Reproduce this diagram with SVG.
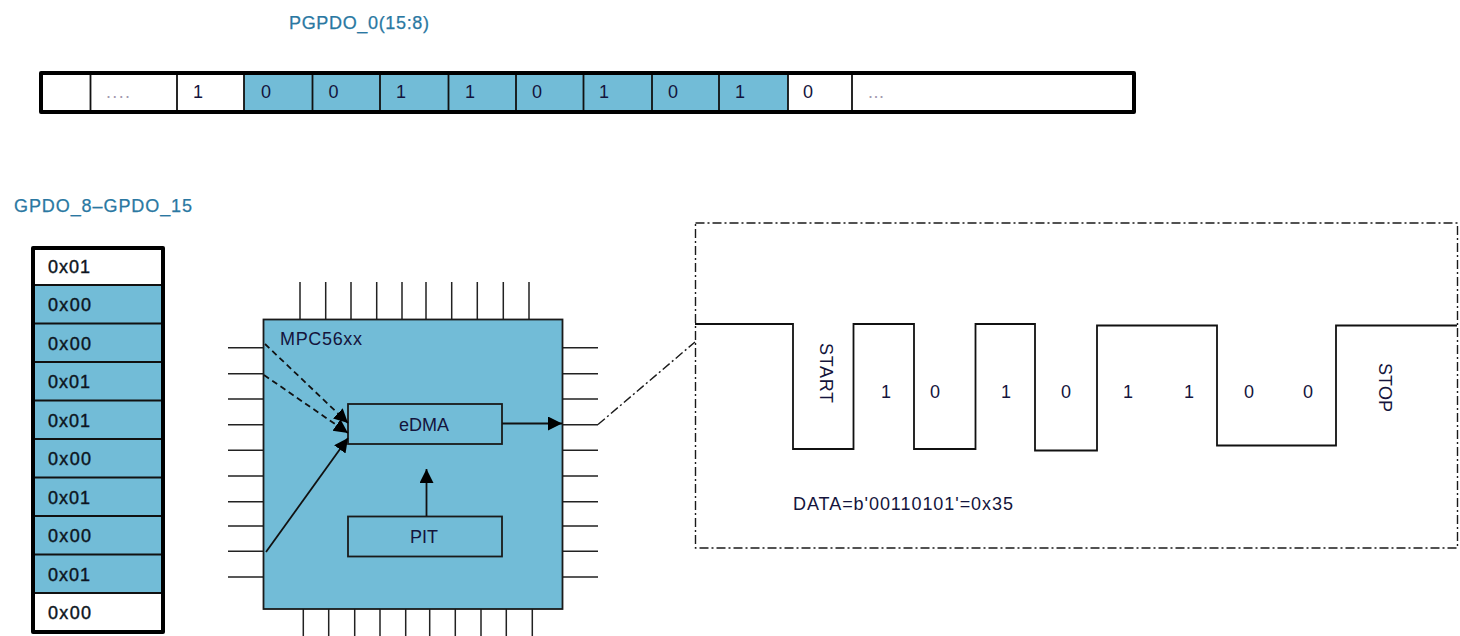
<svg xmlns="http://www.w3.org/2000/svg" width="1460" height="636" viewBox="0 0 1460 636">
<style>
text{font-family:"Liberation Sans",Arial,sans-serif;font-size:18px;fill:#14143c}
.title{fill:#2a78a2;font-weight:400;stroke:#2a78a2;stroke-width:.25}
.c{text-anchor:middle}
.val{fill:#0c1420;stroke:#0c1420;stroke-width:.4}
.dots{fill:#a49ab0}
.blue{fill:#72bcd7}
.white{fill:#fff}
.cell{stroke:#111;stroke-width:1.8}
.frame{fill:none;stroke:#000;stroke-width:4;stroke-linejoin:round}
.box{fill:none;stroke:#1a1a1a;stroke-width:1.8}
.pin{fill:none;stroke:#222;stroke-width:1.5}
.wire{fill:none;stroke:#111;stroke-width:1.8}
.dash{stroke-dasharray:6 4}
.ddot{fill:none;stroke:#1a1a1a;stroke-width:1.4;stroke-dasharray:9 3 2 3}
</style>
<defs>
<marker id="arrow" markerUnits="userSpaceOnUse" markerWidth="15" markerHeight="15" refX="14" refY="7" orient="auto"><path d="M0 0L14 7L0 14Z" fill="#000"/></marker>
</defs>

<g id="title-pgpdo"><text class="title" x="289" y="29" textLength="140">PGPDO_0(15:8)</text></g>
<g id="title-gpdo"><text class="title" x="14" y="212" textLength="178">GPDO_8–GPDO_15</text></g>

<g id="register-pgpdo">
<rect class="white" x="41" y="73" width="203" height="39"/>
<rect class="blue" x="244" y="73" width="544" height="39"/>
<rect class="white" x="788" y="73" width="346" height="39"/>
<path class="cell" fill="none" d="M90.500 73V112M177 73V112M244 73V112M312.500 73V112M380 73V112M448.500 73V112M516 73V112M583.500 73V112M652 73V112M719 73V112M788 73V112M852 73V112"/>
<rect class="frame" x="41" y="73" width="1093" height="39"/>
<text class="c" x="198" y="98">1</text>
<text class="c" x="266" y="98">0</text>
<text class="c" x="333.500" y="98">0</text>
<text class="c" x="401" y="98">1</text>
<text class="c" x="470" y="98">1</text>
<text class="c" x="537" y="98">0</text>
<text class="c" x="604" y="98">1</text>
<text class="c" x="673" y="98">0</text>
<text class="c" x="740" y="98">1</text>
<text class="c" x="808" y="98">0</text>
<text class="dots" x="106" y="98" textLength="24">....</text>
<text class="dots" x="868" y="98" textLength="16">...</text>
</g>

<g id="table-gpdo">
<rect class="white" x="33" y="248" width="130" height="37"/>
<rect class="blue" x="33" y="285" width="130" height="308"/>
<rect class="white" x="33" y="593" width="130" height="39"/>
<path class="cell" fill="none" d="M33 285H163M33 323.500H163M33 362H163M33 400.500H163M33 439H163M33 477.500H163M33 516H163M33 554.500H163M33 593H163"/>
<rect class="frame" x="33" y="248" width="130" height="384"/>
<text class="val" x="48" y="273" textLength="42">0x01</text>
<text class="val" x="48" y="311" textLength="43">0x00</text>
<text class="val" x="48" y="350" textLength="43">0x00</text>
<text class="val" x="48" y="388" textLength="42">0x01</text>
<text class="val" x="48" y="427" textLength="42">0x01</text>
<text class="val" x="48" y="465" textLength="43">0x00</text>
<text class="val" x="48" y="504" textLength="42">0x01</text>
<text class="val" x="48" y="542" textLength="43">0x00</text>
<text class="val" x="48" y="581" textLength="42">0x01</text>
<text class="val" x="48" y="619" textLength="43">0x00</text>
</g>

<g id="chip-mpc56xx">
<path class="pin" d="M300 282V319M325.700 282V319M351 282V319M376.700 282V319M402 282V319M426 282V319M451.700 282V319M477.300 282V319M503.300 282V319M529 282V319"/>
<path class="pin" d="M303.300 609V636M328.700 609V636M354.700 609V636M380 609V636M405.700 609V636M429.700 609V636M455.300 609V636M481 609V636M506.300 609V636M532.300 609V636"/>
<path class="pin" d="M228 347.700H263M228 373.700H263M228 399H263M228 424.700H263M228 450.300H263M228 476H263M228 501.700H263M228 526H263M228 551.300H263M228 577H263"/>
<path class="pin" d="M562 347.700H598M562 373.700H598M562 399H598M562 424.700H598M562 450.300H598M562 476H598M562 501.700H598M562 526H598M562 551.300H598M562 577H598"/>
<rect class="blue" x="263.500" y="319.500" width="299" height="289.500" stroke="#1a1a1a" stroke-width="1.8"/>
<text x="280" y="345" textLength="82">MPC56xx</text>
</g>
<g id="node-edma"><rect class="box" x="348" y="404" width="154" height="40"/><text class="c" x="424" y="431">eDMA</text></g>
<g id="node-pit"><rect class="box" x="348" y="516.500" width="154" height="40"/><text class="c" x="424" y="543">PIT</text></g>

<g id="connectors">
<path class="wire dash" marker-end="url(#arrow)" d="M265 344L348 423"/>
<path class="wire dash" marker-end="url(#arrow)" d="M264 375L348 433"/>
<path class="wire" marker-end="url(#arrow)" d="M266 552L348 438"/>
<path class="wire" marker-end="url(#arrow)" d="M502 423.500H562"/>
<path class="wire" marker-end="url(#arrow)" d="M426.500 516V469"/>
<path class="ddot" d="M598 424.500L695 342"/>
</g>

<g id="waveform-panel">
<rect class="ddot" x="695.500" y="223" width="762" height="325"/>
<path class="wire" d="M695 324H793V449H853.500V324H914V449H975.500V324H1035V450.500H1097V325.500H1217V445.500H1336V325.500H1457"/>
<text transform="translate(820,343) rotate(90)" textLength="60">START</text>
<text transform="translate(1379,363) rotate(90)" textLength="49">STOP</text>
<text class="c" x="886" y="398">1</text>
<text class="c" x="935" y="398">0</text>
<text class="c" x="1006" y="398">1</text>
<text class="c" x="1066" y="398">0</text>
<text class="c" x="1128" y="398">1</text>
<text class="c" x="1189" y="398">1</text>
<text class="c" x="1249" y="398">0</text>
<text class="c" x="1308" y="398">0</text>
<text x="793" y="510" textLength="220">DATA=b'00110101'=0x35</text>
</g>
</svg>
